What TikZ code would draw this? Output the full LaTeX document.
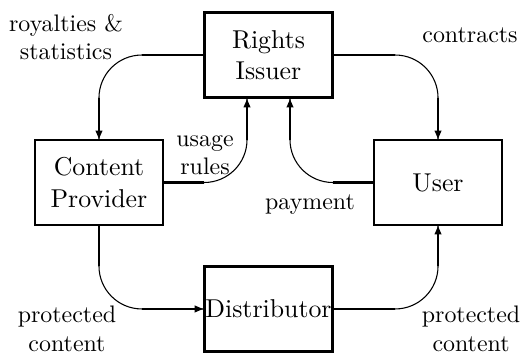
\documentclass[tikz,border=0pt]{standalone}
\usepackage{amssymb,amsfonts,amsmath}
\usetikzlibrary{arrows.meta}
\usetikzlibrary{calc}

\begin{document}
\begin{tikzpicture}
                \tikzstyle{every node}=[align=center]
                \tikzstyle{party}=[draw,line width=0.7pt,minimum width=1.88cm,minimum height=1.25cm,inner sep=0pt,font=\fontsize{10.8}{13}\selectfont]
                \tikzstyle{hub}=[party,line width=1.1pt]
                \tikzstyle{curl}=[line width=0.45pt,rounded corners=6.3mm]
                \tikzstyle{leg}=[line width=0.9pt,-{Triangle[length=3.6pt,width=2.7pt]}]
                \tikzstyle{legfree}=[line width=0.9pt]
                \useasboundingbox (0,0) rectangle (7.688,5.204);
                % the four parties
                \node [hub]   (ri) at (3.947,4.395) {Rights\\Issuer};
                \node [party] (cp) at (1.455,2.521) {Content\\Provider};
                \node [party] (us) at (6.439,2.521) {User};
                \node [hub]   (di) at (3.947,0.662) {Distributor};
                % where usage rules and payment enter the issuer
                \coordinate (r2) at ($(ri.south)+(-0.316,0)$);
                \coordinate (r3) at ($(ri.south)+(0.316,0)$);
                % corners of the connectors
                \coordinate (c1) at (cp.north |- ri.west);
                \coordinate (c2) at (r2 |- cp.east);
                \coordinate (c3) at (r3 |- us.west);
                \coordinate (c4) at (us.north |- ri.east);
                \coordinate (c5) at (cp.south |- di.west);
                \coordinate (c6) at (us.south |- di.east);
                % royalties & statistics
                \draw [curl] (ri.west) -| (cp.north);
                \draw [legfree] (ri.west) -- ([xshift=6.3mm]c1);
                \draw [leg] ([yshift=-6.3mm]c1) -- (cp.north);
                % usage rules
                \draw [curl] (cp.east) -| (r2);
                \draw [legfree] (cp.east) -- ([xshift=-6.3mm]c2);
                \draw [leg] ([yshift=6.3mm]c2) -- (r2);
                % payment
                \draw [curl] (us.west) -| (r3);
                \draw [legfree] (us.west) -- ([xshift=6.3mm]c3);
                \draw [leg] ([yshift=6.3mm]c3) -- (r3);
                % contracts
                \draw [curl] (ri.east) -| (us.north);
                \draw [legfree] (ri.east) -- ([xshift=-6.3mm]c4);
                \draw [leg] ([yshift=-6.3mm]c4) -- (us.north);
                % protected content, provider to distributor
                \draw [curl] (cp.south) |- (di.west);
                \draw [legfree] (cp.south) -- ([yshift=6.3mm]c5);
                \draw [leg] ([xshift=6.3mm]c5) -- (di.west);
                % protected content, distributor to user
                \draw [curl] (di.east) -| (us.south);
                \draw [legfree] (di.east) -- ([xshift=-6.3mm]c6);
                \draw [leg] ([yshift=6.3mm]c6) -- (us.south);
                % labels
                \node (lroy) at (0.970,4.660) {royalties \&\\statistics};
                \node (lcon) at (6.909,4.689) {contracts};
                \node (lusa) at (3.014,2.920) {usage\\rules};
                \node (lpay) at (4.557,2.190) {payment};
                \node (lpc1) at (0.985,0.375) {protected\\content};
                \node (lpc2) at (6.924,0.375) {protected\\content};
            \end{tikzpicture}
\end{document}
